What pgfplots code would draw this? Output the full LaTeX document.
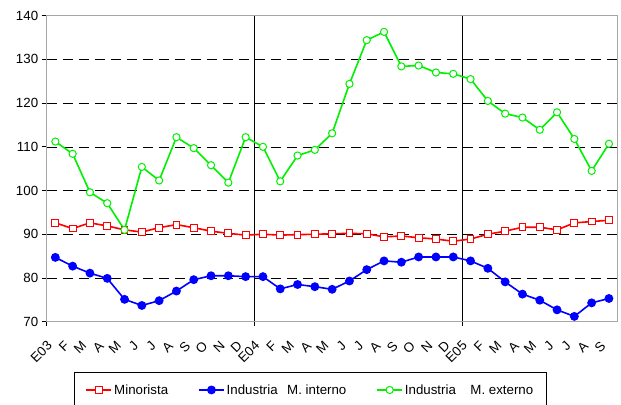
\documentclass[border=0pt]{standalone}
\usepackage{pgfplots}
\usepackage{pgfplotstable}
\pgfplotsset{compat=1.18}
\usetikzlibrary{calc}
\usepackage{fontspec}
\setmainfont{Liberation Sans}
\definecolor{cRed}{RGB}{255,0,0}
\definecolor{cBlue}{RGB}{0,0,255}
\definecolor{cGreen}{RGB}{0,240,0}
\pgfplotstableread{
x red blue green
0 92.6 84.7 111.2
1 91.3 82.7 108.4
2 92.6 81.1 99.6
3 91.9 79.9 97.1
4 91.0 75.1 91.0
5 90.5 73.7 105.4
6 91.5 74.8 102.3
7 92.2 77.0 112.2
8 91.5 79.6 109.7
9 90.7 80.5 105.8
10 90.2 80.5 101.8
11 89.8 80.3 112.2
12 90.0 80.3 110.0
13 89.8 77.5 102.1
14 89.9 78.5 108.0
15 90.0 78.0 109.3
16 90.1 77.4 113.1
17 90.2 79.3 124.4
18 90.1 81.9 134.4
19 89.4 83.9 136.3
20 89.6 83.6 128.4
21 89.2 84.8 128.6
22 88.9 84.8 127.0
23 88.4 84.8 126.7
24 88.9 83.9 125.5
25 90.0 82.2 120.5
26 90.7 79.1 117.6
27 91.6 76.3 116.7
28 91.6 74.9 113.9
29 91.0 72.7 117.9
30 92.6 71.2 111.8
31 92.9 74.3 104.5
32 93.2 75.3 110.7
}\datatable
\begin{document}
\begin{tikzpicture}
\begin{axis}[
  scale only axis, width=571bp, height=306bp,
  xmin=-0.5, xmax=32.5, ymin=70, ymax=140,
  axis x line*=bottom, axis y line*=left,
  axis line style={black, line width=0.8bp},
  ytick={70,80,...,140},
  ymajorgrids,
  major grid style={black, dash pattern=on 10bp off 6bp, line width=0.6bp},
  tick align=outside, major tick length=5bp,
  y tick style={black, line width=0.8bp},
  xtick={0,...,32},
  xticklabels={E03,F,M,A,M,J,J,A,S,O,N,D,E04,F,M,A,M,J,J,A,S,O,N,D,E05,F,M,A,M,J,J,A,S},
  x tick style={draw=none},
  extra x ticks={-0.5,11.5,23.5},
  extra x tick labels={},
  extra x tick style={xmajorgrids=true, major grid style={black, solid, line width=0.8bp}, x tick style={draw=black, line width=0.8bp}, major tick length=4bp},
  /pgf/number format/assume math mode=true,
  every tick label/.append style={font=\fontsize{13.3bp}{15bp}\selectfont, black},
  xticklabel style={xshift=-5bp, yshift=-16bp, rotate=45, anchor=east, inner sep=1bp},
  legend columns=3,
  legend style={at={(0.462,-0.163)}, anchor=north, draw=black, line width=0.8bp, font=\fontsize{13.3bp}{15bp}\selectfont,
    cells={inner xsep=1.5bp, inner ysep=1.5bp},
    /tikz/every even column/.append style={column sep=28bp}, inner xsep=11.5bp, inner ysep=10.5bp},
  legend image code/.code={\draw[#1, mark repeat=2, mark phase=2] plot coordinates {(0bp,0bp)(12.5bp,0bp)(25bp,0bp)};},
  clip=false,
]
\draw[gray!70, line width=0.8bp] (rel axis cs:0,0) rectangle (rel axis cs:1,1);
\coordinate (bl) at (rel axis cs:0,0);
\coordinate (tr) at (rel axis cs:1,1);
\addplot[cRed, line width=1.6bp, mark=square*, mark size=3.4bp, mark options={fill=white, line width=1bp}] table[x=x, y=red] {\datatable};
\addlegendentry{Minorista}
\addplot[cBlue, line width=1.6bp, mark=*, mark size=3.6bp, mark options={fill=cBlue}] table[x=x, y=blue] {\datatable};
\addlegendentry{Industria\hspace{9.5bp}M. interno}
\addplot[cGreen, line width=1.6bp, mark=*, mark size=3.6bp, mark options={fill=white, line width=1bp}] table[x=x, y=green] {\datatable};
\addlegendentry{Industria\hspace{14.5bp}M. externo}
\end{axis}
\pgfresetboundingbox
\path[use as bounding box] ($(bl)+(-46.7bp,-83.2bp)$) rectangle ($(tr)+(3.4bp,15.7bp)$);
\end{tikzpicture}
\end{document}
